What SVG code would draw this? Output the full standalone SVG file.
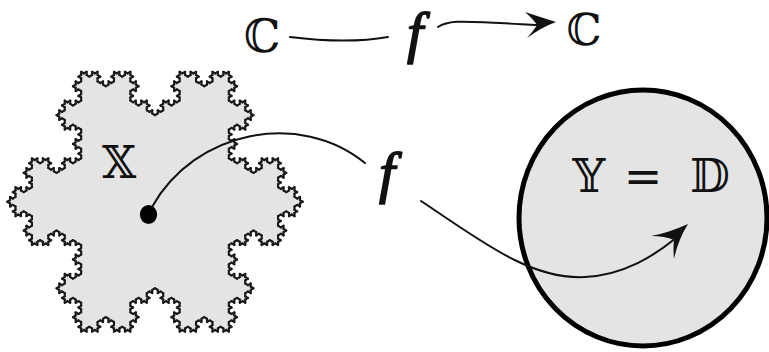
<svg xmlns="http://www.w3.org/2000/svg" xmlns:xlink="http://www.w3.org/1999/xlink" width="769" height="352" viewBox="0 0 769 352">
<style>
.ks{fill:none;stroke:#1a1a1a;stroke-width:0.68;stroke-linecap:round}
.kf{fill:#e4e4e4;stroke:#e4e4e4;stroke-width:0.25;stroke-linejoin:round}
.bb{font-family:"DejaVu Serif","DejaVu Sans",serif;fill:#111}
.fi{font-family:"Liberation Serif",serif;font-style:italic;fill:#111;stroke:#111;stroke-width:1.6;stroke-linejoin:round}
.con{fill:none;stroke:#111;stroke-width:2;stroke-linecap:round}
.head{fill:#111;stroke:none}
</style>
<defs>
<path id="k0" class="ks" d="M0 0H1"/>
<g id="k1"><use href="#k0"/><use href="#k0" transform="translate(1 0) rotate(-60)"/><use href="#k0" transform="translate(1.5 -0.8660254) rotate(60)"/><use href="#k0" transform="translate(2 0)"/></g>
<g id="k2"><use href="#k1"/><use href="#k1" transform="translate(3 0) rotate(-60)"/><use href="#k1" transform="translate(4.5 -2.5980762) rotate(60)"/><use href="#k1" transform="translate(6 0)"/></g>
<g id="k3"><use href="#k2"/><use href="#k2" transform="translate(9 0) rotate(-60)"/><use href="#k2" transform="translate(13.5 -7.7942286) rotate(60)"/><use href="#k2" transform="translate(18 0)"/></g>
<g id="k4"><use href="#k3"/><use href="#k3" transform="translate(27 0) rotate(-60)"/><use href="#k3" transform="translate(40.5 -23.3826859) rotate(60)"/><use href="#k3" transform="translate(54 0)"/></g>
<polygon id="f1" class="kf" points="1,0 1.5,-0.8660254 2,0"/>
<g id="f2"><polygon class="kf" points="3,0 4.5,-2.5980762 6,0"/><use href="#f1"/><use href="#f1" transform="translate(3 0) rotate(-60)"/><use href="#f1" transform="translate(4.5 -2.5980762) rotate(60)"/><use href="#f1" transform="translate(6 0)"/></g>
<g id="f3"><polygon class="kf" points="9,0 13.5,-7.7942286 18,0"/><use href="#f2"/><use href="#f2" transform="translate(9 0) rotate(-60)"/><use href="#f2" transform="translate(13.5 -7.7942286) rotate(60)"/><use href="#f2" transform="translate(18 0)"/></g>
<g id="f4"><polygon class="kf" points="27,0 40.5,-23.3826859 54,0"/><use href="#f3"/><use href="#f3" transform="translate(27 0) rotate(-60)"/><use href="#f3" transform="translate(40.5 -23.3826859) rotate(60)"/><use href="#f3" transform="translate(54 0)"/></g>
</defs>

<g id="X">
<g transform="translate(155 201.7) scale(147.7 150)">
<polygon points="-0.5,-0.8660254 1,0 -0.5,0.8660254" fill="#e4e4e4" stroke="#e4e4e4" stroke-width="0.005"/>
<use href="#f4" transform="translate(-0.5 -0.8660254) rotate(30) scale(0.0213833)"/>
<use href="#f4" transform="translate(1 0) rotate(150) scale(0.0213833)"/>
<use href="#f4" transform="translate(-0.5 0.8660254) rotate(270) scale(0.0213833)"/>
<use href="#k4" transform="translate(-0.5 -0.8660254) rotate(30) scale(0.0213833)"/>
<use href="#k4" transform="translate(1 0) rotate(150) scale(0.0213833)"/>
<use href="#k4" transform="translate(-0.5 0.8660254) rotate(270) scale(0.0213833)"/>
</g>
<text class="bb" x="119" y="178" font-size="44" text-anchor="middle">𝕏</text>
<ellipse cx="148.5" cy="214.5" rx="8.6" ry="9.5" fill="#000"/>
</g>

<g id="Y">
<ellipse cx="643" cy="218" rx="124" ry="128" fill="#e4e4e4" stroke="#000" stroke-width="5"/>
<text class="bb" font-size="46" y="192"><tspan x="589" text-anchor="middle">𝕐</tspan><tspan x="643" text-anchor="middle">=</tspan><tspan x="710" text-anchor="middle">𝔻</tspan></text>
</g>

<g id="C1"><text class="bb" x="262" y="52" font-size="46" text-anchor="middle">ℂ</text></g>
<g id="C2"><text class="bb" x="584" y="45" font-size="44" text-anchor="middle">ℂ</text></g>
<g id="f-top"><text class="fi" x="415" y="52" font-size="58" text-anchor="middle">f</text></g>
<g id="f-mid"><text class="fi" x="387" y="192" font-size="58" text-anchor="middle">f</text></g>

<g id="connectors">
<path class="con" d="M290 37 C330 42 360 42 388 37"/>
<path class="con" d="M438 27 C450 19 470 22 500 23 C520 24 530 25 537 25"/>
<path class="head" d="M556 22 Q540 17 525 12 Q534 20 537 25 Q534 30 527 38 Q542 27 556 22 Z"/>
<path class="con" d="M152 207 C195 130 300 110 365 163"/>
<path class="con" d="M421 201 C480 240 530 280 585 277 C625 275 655 255 676 238"/>
<path class="head" d="M688 224 Q668 233 651 236 Q665 236 674 240 Q673 248 674 259 Q678 240 688 224 Z"/>
</g>
</svg>
